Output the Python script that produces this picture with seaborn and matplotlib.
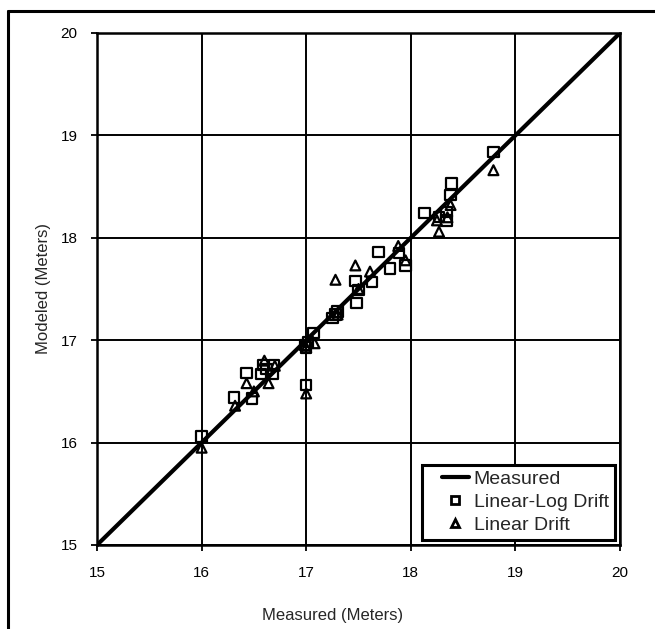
import matplotlib
matplotlib.use("Agg")
import matplotlib.pyplot as plt
import seaborn as sns
from matplotlib.lines import Line2D
from matplotlib.legend_handler import HandlerLine2D

# Data
sq_x = [16.0, 16.31, 16.43, 16.48, 16.59, 16.69, 16.57, 16.68, 16.62, 16.99, 17.0, 17.02, 17.07, 17.0,
        17.25, 17.3, 17.28, 17.48, 17.5, 17.47, 17.63, 17.69, 17.8, 17.89, 17.95, 18.13, 18.27, 18.34,
        18.34, 18.38, 18.39, 18.79]
sq_y = [16.06, 16.44, 16.68, 16.43, 16.76, 16.76, 16.67, 16.67, 16.72, 16.95, 16.93, 16.98, 17.07, 16.56,
        17.22, 17.28, 17.25, 17.36, 17.49, 17.58, 17.57, 17.86, 17.70, 17.85, 17.73, 18.24, 18.20, 18.25,
        18.17, 18.42, 18.53, 18.84]
tri_x = [16.0, 16.32, 16.43, 16.5, 16.6, 16.64, 16.7, 17.0, 17.0, 17.08, 17.28, 17.3, 17.47, 17.5,
         17.61, 17.88, 17.95, 18.25, 18.27, 18.35, 18.38, 18.79]
tri_y = [15.95, 16.36, 16.58, 16.5, 16.8, 16.58, 16.75, 16.48, 16.93, 16.97, 17.59, 17.25, 17.73, 17.5,
         17.67, 17.92, 17.78, 18.17, 18.06, 18.2, 18.32, 18.66]
line_x = [15, 20]
line_y = [15, 20]
ticks = [15, 16, 17, 18, 19, 20]

sns.set_style("white")
plt.rcParams['font.family'] = ['Liberation Sans', 'DejaVu Sans']

fig = plt.figure(figsize=(6.55, 6.29), dpi=100)
ax = fig.add_axes([97 / 655, 1 - 545 / 629, 523 / 655, 512 / 629])

sns.lineplot(x=line_x, y=line_y, ax=ax, color='black', linewidth=3.0, zorder=3)
sns.scatterplot(x=sq_x, y=sq_y, ax=ax, marker='s', s=55, facecolor='none', edgecolor='black',
                linewidth=1.6, zorder=4)
sns.scatterplot(x=tri_x, y=tri_y, ax=ax, marker='^', s=50, facecolor='none', edgecolor='black',
                linewidth=1.6, zorder=4)

ax.set_xlim(15, 20)
ax.set_ylim(15, 20)
ax.set_xticks(ticks)
ax.set_yticks(ticks)
ax.grid(True, color='black', linewidth=1.4)
ax.set_axisbelow(True)
for sp in ax.spines.values():
    sp.set_color('black')
    sp.set_linewidth(1.8)
ax.tick_params(axis='both', labelsize=11, colors='black', length=4, width=1.3, direction='out',
               bottom=True, left=True)
ax.tick_params(axis='x', pad=11)
ax.tick_params(axis='y', pad=10)
ax.set_xlabel('Measured (Meters)', fontsize=12)
ax.set_ylabel('Modeled (Meters)', fontsize=12)
ax.xaxis.set_label_coords(0.45, -0.124)
ax.yaxis.set_label_coords(-0.087, 0.5)

handles = [
    Line2D([], [], color='black', linewidth=3.0, label='Measured'),
    Line2D([], [], color='black', marker='s', linestyle='none', markersize=6, markerfacecolor='none',
           markeredgewidth=2, label='Linear-Log Drift'),
    Line2D([], [], color='black', marker='^', linestyle='none', markersize=6, markerfacecolor='none',
           markeredgewidth=2, label='Linear Drift'),
]
leg = ax.legend(handles=handles, loc='lower right', bbox_to_anchor=(0.990, 0.0098), borderaxespad=0,
                fontsize=14, frameon=True, fancybox=False, edgecolor='black', framealpha=1,
                handlelength=2.1, handletextpad=0.27, borderpad=0.3, labelspacing=0.28,
                handler_map={Line2D: HandlerLine2D(xpad=0.75)})
leg.get_frame().set_linewidth(2.2)

# page frame (left and top edges)
fig.add_artist(Line2D([8 / 655, 8 / 655], [0, 1 - 11 / 629], transform=fig.transFigure,
                      color='black', linewidth=2.2))
fig.add_artist(Line2D([8 / 655, 1], [1 - 11 / 629, 1 - 11 / 629], transform=fig.transFigure,
                      color='black', linewidth=2.2))

fig.savefig('out.png', dpi=100)
